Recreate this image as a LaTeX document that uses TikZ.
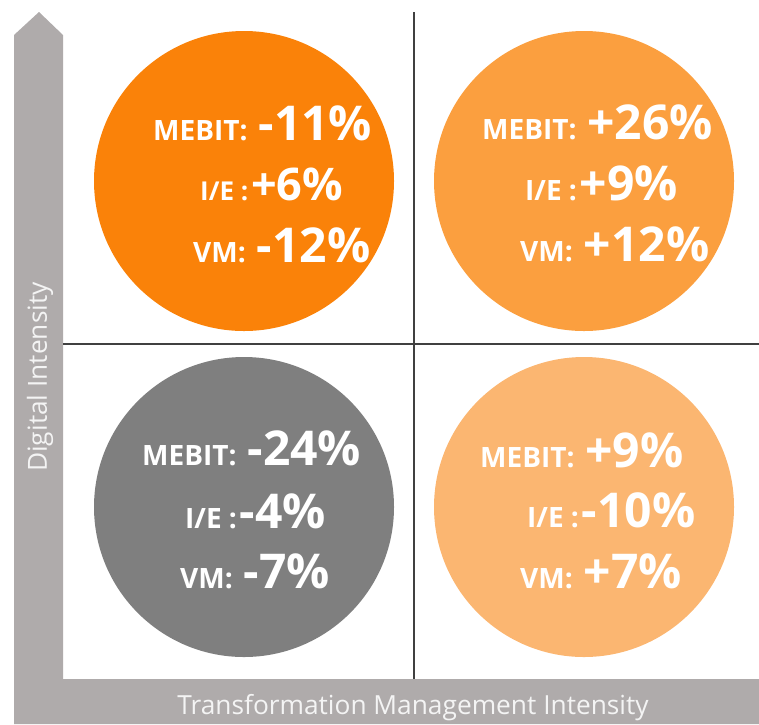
\documentclass[tikz,border=0pt]{standalone}
\usepackage{fontspec}
\setmainfont{Open Sans}
\definecolor{barg}{HTML}{AFABAB}
\definecolor{lineg}{HTML}{404040}
\definecolor{oA}{HTML}{FA8209}
\definecolor{oB}{HTML}{FB9F3F}
\definecolor{oC}{HTML}{FBB671}
\definecolor{gC}{HTML}{7F7F7F}
\definecolor{axt}{HTML}{F4F4F4}
\tikzset{
  bubble/.style={fill=#1, draw=none},
  rowtxt/.style={anchor=base west, inner sep=0pt, text=white, font=\bfseries},
  axlabel/.style={inner sep=0pt, text=axt, font=\fontsize{26.3}{28}\selectfont},
  divider/.style={draw=lineg, line width=2.4pt}
}
\newcommand{\sm}{\fontsize{28}{30}\selectfont}
\newcommand{\bg}{\fontsize{48}{50}\selectfont}
\newcommand{\smm}{\fontsize{26}{28}\selectfont}
\newcommand{\bgm}{\fontsize{45}{47}\selectfont}
\newcommand{\gp}{\hspace{11pt}}
\newcommand{\gs}{\hspace{3pt}}
\begin{document}
\begin{tikzpicture}[x=1pt,y=-1pt]
\useasboundingbox (0,0) rectangle (759,724);
% axes bars
\fill[barg] (14,724) -- (14,35) -- (39,12) -- (63,35) -- (63,679) -- (759,679) -- (759,724) -- cycle;
% circles
\fill[bubble=oA] (244,181) circle (150);
\fill[bubble=oB] (584,181) circle (150);
\fill[bubble=gC] (244,507) circle (150);
\fill[bubble=oC] (584,507) circle (150);
% dividers
\coordinate (vt) at (414,12);
\coordinate (vb) at (414,679);
\coordinate (hl) at (63,344);
\coordinate (hr) at (759,344);
\draw[divider] (vt) -- (vb);
\draw[divider] (hl) -- (hr);
% axis labels
\node[axlabel, rotate=90] (ylab) at (40,377) {Digital Intensity};
\node[axlabel, anchor=base] (xlab) at (413,714) {Transformation Management Intensity};
% TL
\node[rowtxt] (a1) at (153,140) {\sm MEBIT:\gp\bg -11\%};
\node[rowtxt] (a2) at (200,200) {\smm I/E :\gs\bgm +6\%};
\node[rowtxt] (a3) at (193,262) {\sm VM:\gp\bg -12\%};
% TR
\node[rowtxt] (b1) at (482,139) {\sm MEBIT:\gp\bg +26\%};
\node[rowtxt] (b2) at (525,200) {\sm I/E :\gs\bg +9\%};
\node[rowtxt] (b3) at (520,261) {\sm VM:\gp\bg +12\%};
% BL
\node[rowtxt] (c1) at (142,465) {\sm MEBIT:\gp\bg -24\%};
\node[rowtxt] (c2) at (185,528) {\sm I/E :\gs\bg -4\%};
\node[rowtxt] (c3) at (180,588) {\sm VM:\gp\bg -7\%};
% BR
\node[rowtxt] (d1) at (480,467) {\sm MEBIT:\gp\bg +9\%};
\node[rowtxt] (d2) at (527,527) {\sm I/E :\gs\bg -10\%};
\node[rowtxt] (d3) at (520,588) {\sm VM:\gp\bg +7\%};
\end{tikzpicture}
\end{document}
